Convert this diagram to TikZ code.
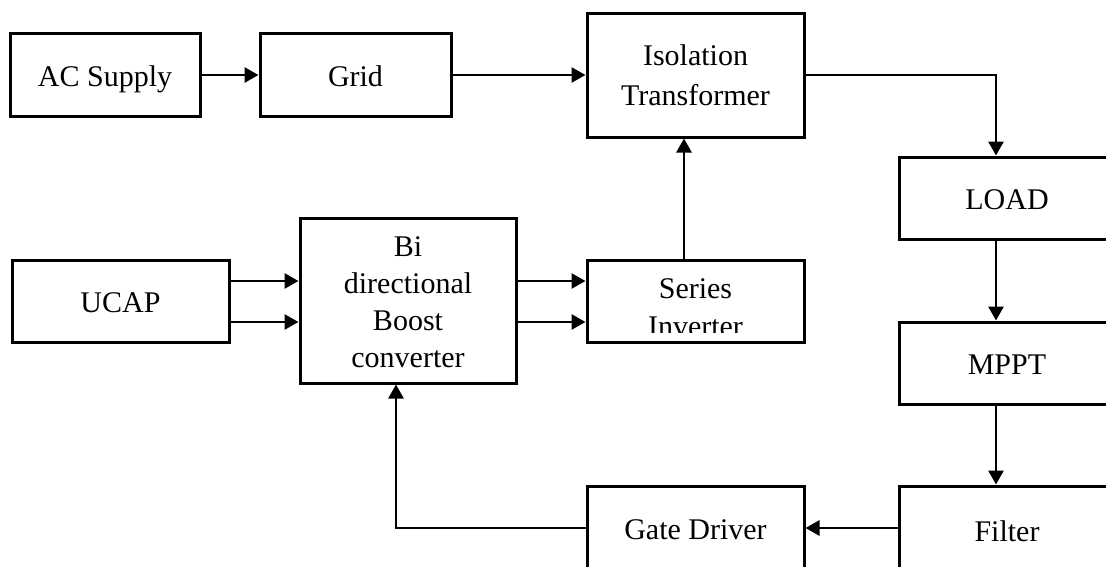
\documentclass[tikz,border=0pt]{standalone}
\usepackage{fontspec}
\setmainfont{Liberation Serif}
\usetikzlibrary{arrows.meta}
\begin{document}
\begin{tikzpicture}[x=1pt,y=-1pt,
  blk/.style={draw, line width=3pt, rectangle, inner sep=0pt, align=center,
    font=\fontsize{30}{38}\selectfont},
  one/.style={text height=22pt, text depth=0pt},
  conn/.style={line width=2.8pt, -{Triangle[length=14pt,width=15pt]}}]
\useasboundingbox (0,0) rectangle (1106,566);
\clip (0,0) rectangle (1106,566);
\fill[white] (0,0) rectangle (1106,566);
% boxes
\node[blk, one, minimum width=190pt, minimum height=83pt] (ac) at (105,75) {AC Supply};
\node[blk, one, minimum width=191pt, minimum height=83pt] (grid) at (355.5,75) {Grid};
\node[blk, minimum width=217pt, minimum height=124pt, font=\fontsize{30}{40}\selectfont] (iso) at (695.5,75) {Isolation\\Transformer};
\node[blk, one, minimum width=216pt, minimum height=82pt] (load) at (1007,198) {LOAD};
\node[blk, one, minimum width=216pt, minimum height=82pt] (mppt) at (1007,363) {MPPT};
\node[blk, one, minimum width=216pt, minimum height=88pt] (filter) at (1007,530) {Filter};
\node[blk, one, minimum width=217pt, minimum height=84pt] (gate) at (695.5,528) {Gate Driver};
\node[blk, one, minimum width=217pt, minimum height=82pt] (ucap) at (120.5,301) {UCAP};
\node[blk, minimum width=216pt, minimum height=165pt] (bi) at (408,300.5) {};
\node[blk, draw=none, font=\fontsize{30}{37}\selectfont] (biT) at (408,302) {Bi\\directional\\Boost\\converter};
\node[blk, minimum width=217pt, minimum height=82pt] (ser) at (695.5,301) {};
\begin{scope}
  \clip (589,262) rectangle (802,332);
  \node[blk, draw=none] (serT) at (695.5,307.5) {Series\\Inverter};
\end{scope}
% connectors
\draw[conn] (ac.east) -- (grid.west);
\draw[conn] (grid.east) -- (iso.west);
\draw[conn] (iso.east) -| ([xshift=-11pt]load.north);
\draw[conn] ([xshift=-11pt]load.south) -- ([xshift=-11pt]mppt.north);
\draw[conn] ([xshift=-11pt]mppt.south) -- ([xshift=-11pt]filter.north);
\draw[conn] (gate.east -| filter.west) -- (gate.east);
\draw[conn] (gate.west) -| ([xshift=-12pt]bi.south);
\draw[conn] (ucap.east |- 0,281) -- (bi.west |- 0,281);
\draw[conn] (ucap.east |- 0,322) -- (bi.west |- 0,322);
\draw[conn] (bi.east |- 0,281) -- (ser.west |- 0,281);
\draw[conn] (bi.east |- 0,322) -- (ser.west |- 0,322);
\draw[conn] ([xshift=-11.5pt]ser.north) -- ([xshift=-11.5pt]iso.south);
\end{tikzpicture}
\end{document}
